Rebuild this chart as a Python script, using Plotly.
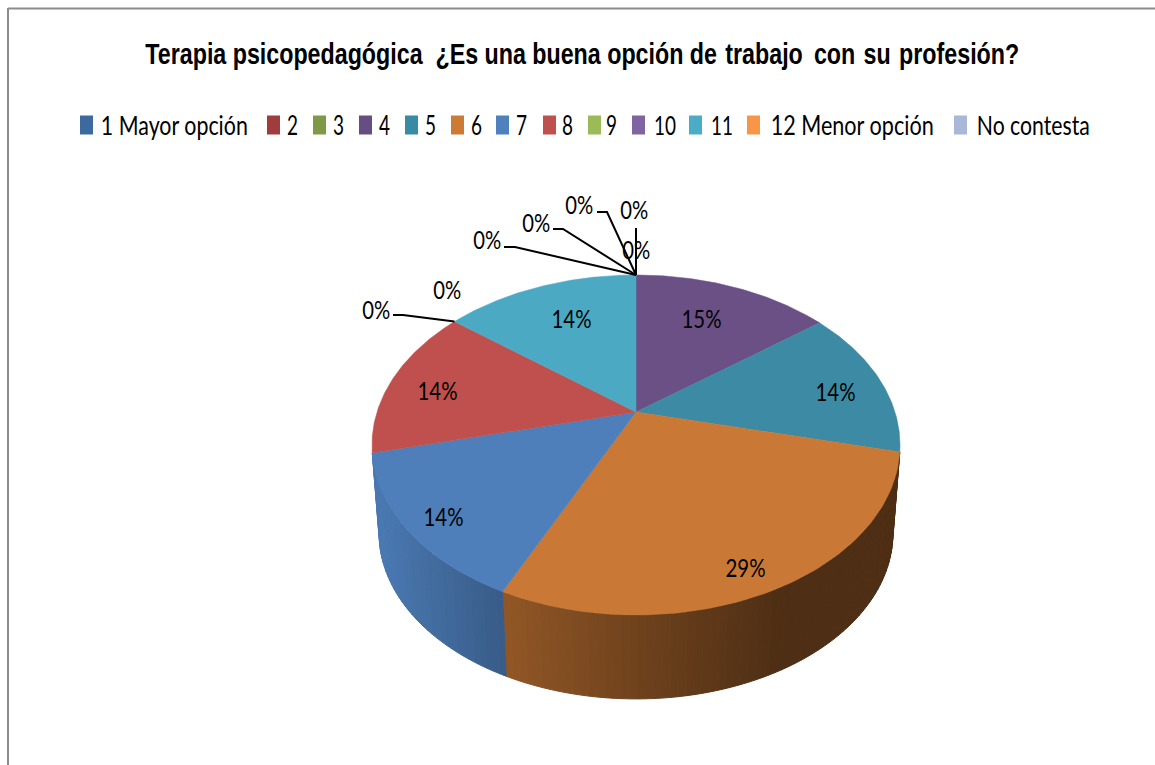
import json
import numpy as np
import plotly.graph_objects as go

TITLE = "Terapia psicopedagógica\u00a0\u00a0¿Es una buena opción de \u200atrabajo \u2009con \u200asu \u200aprofesión?"
categories = ["1 Mayor opción", "2", "3", "4", "5", "6", "7", "8", "9", "10", "11", "12 Menor opción", "No contesta"]
values = [0, 0, 0, 14.5, 14.1, 28.1, 14.1, 14.4, 0, 0, 14.3, 0, 0]
percent_labels = ["0%", "0%", "0%", "15%", "14%", "29%", "14%", "14%", "0%", "0%", "14%", "0%", "0%"]
legend_colors = ["#3D6A9E", "#9E3D3B", "#7E9A46", "#664E82", "#388BA4", "#CC7A36", "#4F81BD",
                 "#C0504D", "#9BBB59", "#8064A2", "#4BACC6", "#F79646", "#A9B8D8"]
slice_colors = ["#3D6A9E", "#9E3D3B", "#7E9A46", "#6A5085", "#3C8AA3", "#C97835", "#4E7FBB",
                "#BF504D", "#9BBB59", "#8064A2", "#4BA9C4", "#F79646", "#A9B8D8"]

# layout (pixels)
BODY_FONT = "Lato, 'Open Sans', sans-serif"
TITLE_FONT = "'Liberation Sans', Arial, sans-serif"
LEGEND_SIZE, LABEL_SIZE, TITLE_SIZE = 26, 25, 29
LEGEND_SWATCH_X = [80, 267, 313, 359, 405, 451, 496, 543, 588, 632, 689, 747, 954]
LEGEND_TEXT_X = [101, 287, 333, 379, 425, 471, 516, 562, 606, 654, 711, 770, 977]
LEGEND_TEXT_W = [147, 11, 11, 11, 11, 11, 11, 11, 11, 22, 22, 163, 113]
LABEL_CENTRES = [(634, 209), (636, 249), (579, 204), (701, 318), (835, 391), (745, 567), (443, 516),
                 (437, 390), (376, 309), (447, 289), (571, 318), (487, 239), (536, 222)]
TARGET_WIDTHS = dict(zip(categories, LEGEND_TEXT_W))
TARGET_WIDTHS.update({"0%": 28, "14%": 40, "15%": 40, "29%": 40, TITLE: 874})
P = 0.194
TOP = dict(cy=412.0, s=259.0, t=163.6)
BOT = dict(cy=501.4, s=252.0, t=159.2)


def project(deg, g):
    a = np.radians(deg)
    u, v = np.sin(a), -np.cos(a)
    d = 1 - P * v
    return 636 + g["s"] * u / d, g["cy"] + g["t"] * v / d


def shade(x):
    return np.interp(x, [378, 500, 640, 780, 900], [0.95, 0.73, 0.55, 0.39, 0.39])


def scale_color(c, k):
    r, g, b = int(c[1:3], 16), int(c[3:5], 16), int(c[5:7], 16)
    return f"rgb({int(r*k)},{int(g*k)},{int(b*k)})"


fig = go.Figure()
edges = np.concatenate([[0], np.cumsum(values)]) * 3.6 / (sum(values) / 100)

# side walls
for i, val in enumerate(values):
    lo, hi = max(edges[i], 101), min(edges[i + 1], 259)
    if val == 0 or hi - lo < 5:
        continue
    steps = int((hi - lo) / 1.5) + 1
    bounds = np.linspace(lo, hi, steps + 1)
    for a0, a1 in zip(bounds[:-1], bounds[1:]):
        arc = np.linspace(a0, a1, 4)
        xt, yt = project(arc, TOP)
        xb, yb = project(arc[::-1], BOT)
        col = scale_color(slice_colors[i], float(shade(xt.mean())))
        fig.add_trace(go.Scatter(x=np.r_[xt, xb, xt[0]], y=np.r_[yt, yb, yt[0]], mode="lines", fill="toself",
                                 fillcolor=col, line=dict(color=col, width=1), showlegend=False, hoverinfo="skip"))

# top faces
for i, val in enumerate(values):
    if val == 0:
        continue
    arc = np.linspace(edges[i], edges[i + 1], 90)
    x, y = project(arc, TOP)
    fig.add_trace(go.Scatter(x=np.r_[636, x, 636], y=np.r_[TOP["cy"], y, TOP["cy"]], mode="lines", fill="toself",
                             fillcolor=slice_colors[i], line=dict(color=slice_colors[i], width=0.5),
                             name=categories[i], text=percent_labels[i], hoverinfo="name+text", showlegend=False))

# leader lines: (elbow start, elbow end, slice edge angle)
leaders = [((504, 247), (515, 247), 0.0), ((553, 229), (563, 229), 0.0), ((597, 212), (607, 212), 0.0),
           ((636, 228), (636, 228), 0.0), ((393, 315), (403, 315), edges[8])]
for p0, p1, ang in leaders:
    ex, ey = project(ang, TOP)
    fig.add_trace(go.Scatter(x=[p0[0], p1[0], float(ex)], y=[p0[1], p1[1], float(ey)], mode="lines",
                             line=dict(color="black", width=2), showlegend=False, hoverinfo="skip"))

# legend
for name, col, sx, tx, tw in zip(categories, legend_colors, LEGEND_SWATCH_X, LEGEND_TEXT_X, LEGEND_TEXT_W):
    fig.add_shape(type="rect", x0=sx, x1=sx + 13, y0=115.5, y1=134.5, fillcolor=col, line_width=0)
    fig.add_annotation(x=tx + tw / 2, y=125, text=name, showarrow=False, xanchor="center", yanchor="middle",
                       font=dict(family=BODY_FONT, size=LEGEND_SIZE, color="black"))

# data labels
for txt, (lx, ly) in zip(percent_labels, LABEL_CENTRES):
    fig.add_annotation(x=lx, y=ly, text=txt, showarrow=False,
                       font=dict(family=BODY_FONT, size=LABEL_SIZE, color="black"))

# frame
fig.add_shape(type="line", x0=8, x1=8, y0=8, y1=765, line=dict(color="#8C8C8C", width=2))
fig.add_shape(type="line", x0=8, x1=1155, y0=8.5, y1=8.5, line=dict(color="#8C8C8C", width=2))

# title
fig.add_annotation(x=582, y=54, text=TITLE, showarrow=False,
                   font=dict(family=TITLE_FONT, size=TITLE_SIZE, color="black", weight="bold"))

fig.update_layout(width=1155, height=765, margin=dict(l=0, r=0, t=0, b=0), paper_bgcolor="white",
                  plot_bgcolor="white", showlegend=False,
                  xaxis=dict(range=[0, 1155], visible=False, fixedrange=True),
                  yaxis=dict(range=[765, 0], visible=False, fixedrange=True))

POST = """
document.body.style.margin = '0';
var targets = %s;
function narrow() {
  document.querySelectorAll('.annotation-text').forEach(function (t) {
    var want = targets[t.textContent];
    if (!want) return;
    var k = want / t.getComputedTextLength();
    t.style.transformBox = 'fill-box';
    t.style.transformOrigin = '50%% 50%%';
    t.style.transform = 'scaleX(' + k + ')';
  });
}
narrow();
setTimeout(narrow, 0);
""" % json.dumps(TARGET_WIDTHS)
fig.write_html("out.html", config=dict(displayModeBar=False), post_script=POST)
